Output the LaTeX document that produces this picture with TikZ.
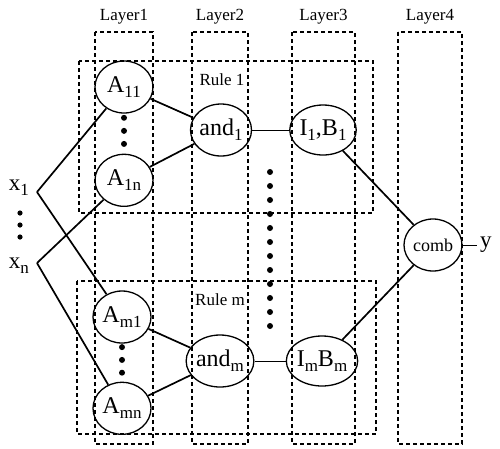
\documentclass[tikz,border=0pt]{standalone}
\usepackage{fontspec}
\setmainfont{Liberation Serif}
\usetikzlibrary{shapes.geometric, positioning, calc}
\tikzset{
    unit/.style={
        ellipse,
        draw,
        line width=1.3pt,
        minimum width=58pt,
        minimum height=52pt,
        inner sep=0pt,
        font=\fontsize{24}{26}\selectfont
    },
    conn/.style={line width=1.7pt},
    thinconn/.style={line width=1pt},
    dashbox/.style={line width=1.5pt, dash pattern=on 4pt off 3pt},
    lbl/.style={font=\fontsize{17}{19}\selectfont},
    rulelbl/.style={font=\fontsize{17}{19}\selectfont}
}
\newcommand{\lsub}[1]{\raisebox{-0.45ex}{\fontsize{17}{19}\selectfont #1}}

\begin{document}
\begin{tikzpicture}[x=1pt, y=-1pt]
    \useasboundingbox (0,0) rectangle (500,448);

    % --- layers ---
    \foreach \l/\xa/\xb in {1/95/153, 2/192/248, 3/292/355, 4/398/462} {
        \draw[dashbox] (\xa,32) rectangle (\xb,444);
        \node[lbl] (layer\l) at ({(\xa+\xb)/2},17) {Layer\l};
    }

    % --- rule boxes ---
    \draw[dashbox] (79,61) rectangle (373,213);
    \draw[dashbox] (77,281) rectangle (376,434);
    \node[rulelbl] (rule1) at (222,80) {Rule 1};
    \node[rulelbl] (rulem) at (220,300) {Rule m};

    % --- inputs ---
    \node[font=\fontsize{23}{25}\selectfont] (x1) at (19,188) {x\lsub{1}};
    \node[font=\fontsize{23}{25}\selectfont] (xn) at (19,266) {x\lsub{n}};
    \coordinate (x1p) at (37,192);
    \coordinate (xnp) at (37,263);
    \foreach \yy in {213,225,237}
        \fill (20,\yy) circle (2.6pt);

    % --- layer 1 ---
    \node[unit] (A11) at (124,87) {A\lsub{11}};
    \node[unit, below=40pt of A11] (A1n) {A\lsub{1n}};
    \node[unit] (Am1) at (122,317) {A\lsub{m1}};
    \node[unit, below=38pt of Am1] (Amn) {A\lsub{mn}};
    \foreach \p in {0.33,0.47,0.61} {
        \fill ($(A11)!\p!(A1n)$) circle (3pt);
        \fill ($(Am1)!\p!(Amn)$) circle (3pt);
    }

    % --- layer 2 ---
    \node[unit, minimum width=55pt] (and1) at (221,130) {and\lsub{1}};
    \node[unit, minimum width=55pt] (andm) at (220,361) {and\lsub{m}};

    % --- layer 3 ---
    \node[unit, minimum height=50pt] (IB1) at (323,130) {I\lsub{1},B\lsub{1}};
    \node[unit, minimum height=50pt] (IBm) at (322,361) {I\lsub{m}B\lsub{m}};
    \foreach \yy in {172,186,...,326}
        \fill (270,\yy) circle (3pt);

    % --- layer 4 ---
    \node[unit, font=\fontsize{18}{20}\selectfont] (comb) at (433,245) {comb};
    \node[font=\fontsize{23}{25}\selectfont, right=14pt of comb] (y) {y};

    % connections
    \draw[conn] (x1p) -- (A11);
    \draw[conn] (x1p) -- (Am1);
    \draw[conn] (xnp) -- (A1n);
    \draw[conn] (xnp) -- (Amn);
    \draw[conn] (A11) -- (and1);
    \draw[conn] (A1n) -- (and1);
    \draw[conn] (Am1) -- (andm);
    \draw[conn] (Amn) -- (andm);
    \draw[thinconn] (and1) -- (IB1);
    \draw[thinconn] (andm) -- (IBm);
    \draw[conn] (IB1) -- (comb);
    \draw[conn] (IBm) -- (comb);
    \draw[thinconn] (comb) -- (y);
\end{tikzpicture}
\end{document}
